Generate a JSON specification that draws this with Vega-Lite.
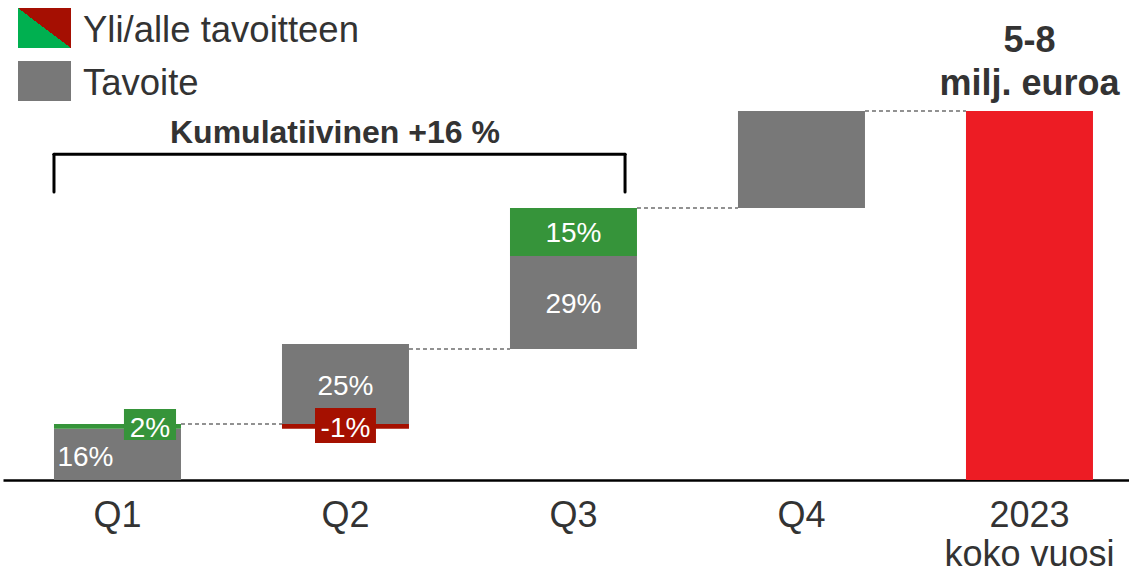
{
  "$schema": "https://vega.github.io/schema/vega-lite/v6.json",
  "width": 1126,
  "height": 480,
  "autosize": {"type": "none"},
  "padding": {"left": 3, "top": 0, "right": 0, "bottom": 97},
  "background": "white",
  "config": {"font": "Liberation Sans", "view": {"stroke": null}},
  "resolve": {"scale": {"color": "independent"}, "legend": {"color": "independent"}},
  "layer": [
    {
      "data": {"values": [
        {"q": "Q1", "kind": "target", "y0": 0, "y1": 16},
        {"q": "Q1", "kind": "over", "y0": 16, "y1": 17.5},
        {"q": "Q2", "kind": "under", "y0": 16, "y1": 17.5},
        {"q": "Q2", "kind": "target", "y0": 17.5, "y1": 42.5},
        {"q": "Q3", "kind": "target", "y0": 40.9, "y1": 70},
        {"q": "Q3", "kind": "over", "y0": 70, "y1": 85},
        {"q": "Q4", "kind": "target", "y0": 85, "y1": 115.3},
        {"q": "2023", "kind": "total", "y0": 0, "y1": 115.3}
      ]},
      "mark": {"type": "bar"},
      "encoding": {
        "x": {
          "field": "q", "type": "nominal",
          "scale": {"domain": ["Q1", "Q2", "Q3", "Q4", "2023"], "paddingInner": 0.443, "paddingOuter": 0.1908, "align": 0.586},
          "axis": {
            "title": null, "domainColor": "#000000", "domainWidth": 2.5, "ticks": false, "tickSize": 0,
            "labelFontSize": 36, "labelColor": "#333333", "labelPadding": 18.5, "labelLineHeight": 39,
            "labelAngle": 0, "labelFont": "Liberation Sans",
            "labelExpr": "datum.value === '2023' ? ['2023', 'koko vuosi'] : datum.value"
          }
        },
        "y": {"field": "y0", "type": "quantitative", "scale": {"domain": [0, 150], "nice": false}, "axis": null},
        "y2": {"field": "y1"},
        "color": {
          "field": "kind", "type": "nominal",
          "scale": {"domain": ["over", "target", "under", "total"], "range": ["#36943a", "#787878", "#a51000", "#ed1c24"]},
          "legend": null
        }
      }
    },
    {
      "data": {"values": [
        {"q": "Q1", "entry": "Yli/alle tavoitteen", "y": 0},
        {"q": "Q1", "entry": "Tavoite", "y": 0}
      ]},
      "mark": {"type": "point", "filled": true, "size": 0, "strokeWidth": 0},
      "encoding": {
        "x": {"field": "q", "type": "nominal"},
        "y": {"field": "y", "type": "quantitative"},
        "color": {
          "field": "entry", "type": "nominal",
          "scale": {"domain": ["Yli/alle tavoitteen", "Tavoite"], "range": [
            {"expr": "{gradient: 'linear', x1: 0, y1: 1, x2: 1, y2: 0, stops: [{offset: 0, color: '#00b050'}, {offset: 0.5, color: '#00b050'}, {offset: 0.5, color: '#a50f02'}, {offset: 1, color: '#a50f02'}]}"},
            "#787878"]},
          "legend": {
            "title": null, "orient": "none", "legendX": 15, "legendY": 4.5,
            "symbolType": "M-1,-0.865H1V0.645H-1Z", "symbolSize": 2809, "symbolStrokeWidth": 0, "symbolOpacity": 1,
            "labelFontSize": 36.5, "labelColor": "#333333", "labelOffset": 12, "rowPadding": 8, "padding": 0, "labelLimit": 0,
            "labelFont": "Liberation Sans"
          }
        }
      }
    },
    {
      "data": {"values": [
        {"from": "Q1", "to": "Q2", "y": 17.5},
        {"from": "Q2", "to": "Q3", "y": 40.9},
        {"from": "Q3", "to": "Q4", "y": 85},
        {"from": "Q4", "to": "2023", "y": 115.3}
      ]},
      "mark": {"type": "rule", "color": "#6e6e6e", "strokeWidth": 1.5, "strokeDash": [4, 3]},
      "encoding": {
        "x": {"field": "from", "type": "nominal", "bandPosition": 1},
        "x2": {"field": "to", "bandPosition": 0},
        "y": {"field": "y", "type": "quantitative"}
      }
    },
    {
      "data": {"values": [{"q": "Q1", "y": 12.5, "y2": 22.2}]},
      "mark": {"type": "rect", "color": "#36943a"},
      "encoding": {
        "x": {"field": "q", "type": "nominal", "bandPosition": 0.551},
        "x2": {"field": "q", "bandPosition": 0.961},
        "y": {"field": "y", "type": "quantitative"},
        "y2": {"field": "y2"}
      }
    },
    {
      "data": {"values": [{"q": "Q2", "y": 11.6, "y2": 22.5}]},
      "mark": {"type": "rect", "color": "#a51000"},
      "encoding": {
        "x": {"field": "q", "type": "nominal", "bandPosition": 0.26},
        "x2": {"field": "q", "bandPosition": 0.74},
        "y": {"field": "y", "type": "quantitative"},
        "y2": {"field": "y2"}
      }
    },
    {
      "data": {"values": [{"q": "Q1", "t": "2%", "y": 13.4}]},
      "mark": {"type": "text", "fontSize": 28, "color": "white", "baseline": "alphabetic", "align": "center"},
      "encoding": {
        "x": {"field": "q", "type": "nominal", "bandPosition": 0.756},
        "y": {"field": "y", "type": "quantitative"},
        "text": {"field": "t"}
      }
    },
    {
      "data": {"values": [
        {"q": "Q2", "t": "-1%", "y": 13.3},
        {"q": "Q2", "t": "25%", "y": 26.6},
        {"q": "Q3", "t": "29%", "y": 52.1},
        {"q": "Q3", "t": "15%", "y": 74.3}
      ]},
      "mark": {"type": "text", "fontSize": 28, "color": "white", "baseline": "alphabetic", "align": "center"},
      "encoding": {
        "x": {"field": "q", "type": "nominal", "bandPosition": 0.5},
        "y": {"field": "y", "type": "quantitative"},
        "text": {"field": "t"}
      }
    },
    {
      "data": {"values": [{"q": "Q1", "t": "16%", "y": 4.47}]},
      "mark": {"type": "text", "fontSize": 28, "color": "white", "baseline": "alphabetic", "align": "center"},
      "encoding": {
        "x": {"field": "q", "type": "nominal", "bandPosition": 0.248},
        "y": {"field": "y", "type": "quantitative"},
        "text": {"field": "t"}
      }
    },
    {
      "data": {"values": [{"a": "Q1", "b": "Q3", "y": 101.8}]},
      "mark": {"type": "rule", "color": "#000000", "strokeWidth": 3, "strokeCap": "round"},
      "encoding": {
        "x": {"field": "a", "type": "nominal", "bandPosition": 0},
        "x2": {"field": "b", "bandPosition": 0.906},
        "y": {"field": "y", "type": "quantitative"}
      }
    },
    {
      "data": {"values": [{"q": "Q1", "y": 101.8, "y2": 90}]},
      "mark": {"type": "rule", "color": "#000000", "strokeWidth": 3, "strokeCap": "round"},
      "encoding": {
        "x": {"field": "q", "type": "nominal", "bandPosition": 0},
        "y": {"field": "y", "type": "quantitative"},
        "y2": {"field": "y2"}
      }
    },
    {
      "data": {"values": [{"q": "Q3", "y": 101.8, "y2": 90}]},
      "mark": {"type": "rule", "color": "#000000", "strokeWidth": 3, "strokeCap": "round"},
      "encoding": {
        "x": {"field": "q", "type": "nominal", "bandPosition": 0.906},
        "y": {"field": "y", "type": "quantitative"},
        "y2": {"field": "y2"}
      }
    },
    {
      "data": {"values": [{"q": "Q2", "t": "Kumulatiivinen +16 %", "y": 105.3}]},
      "mark": {"type": "text", "fontSize": 32, "fontWeight": "bold", "color": "#333333", "baseline": "alphabetic", "align": "center"},
      "encoding": {
        "x": {"field": "q", "type": "nominal", "bandPosition": 0.417},
        "y": {"field": "y", "type": "quantitative"},
        "text": {"field": "t"}
      }
    },
    {
      "data": {"values": [
        {"q": "2023", "t": "5-8", "y": 133.8},
        {"q": "2023", "t": "milj. euroa", "y": 120.3}
      ]},
      "mark": {"type": "text", "fontSize": 36, "fontWeight": "bold", "color": "#333333", "baseline": "alphabetic", "align": "center"},
      "encoding": {
        "x": {"field": "q", "type": "nominal", "bandPosition": 0.5},
        "y": {"field": "y", "type": "quantitative"},
        "text": {"field": "t"}
      }
    }
  ]
}
